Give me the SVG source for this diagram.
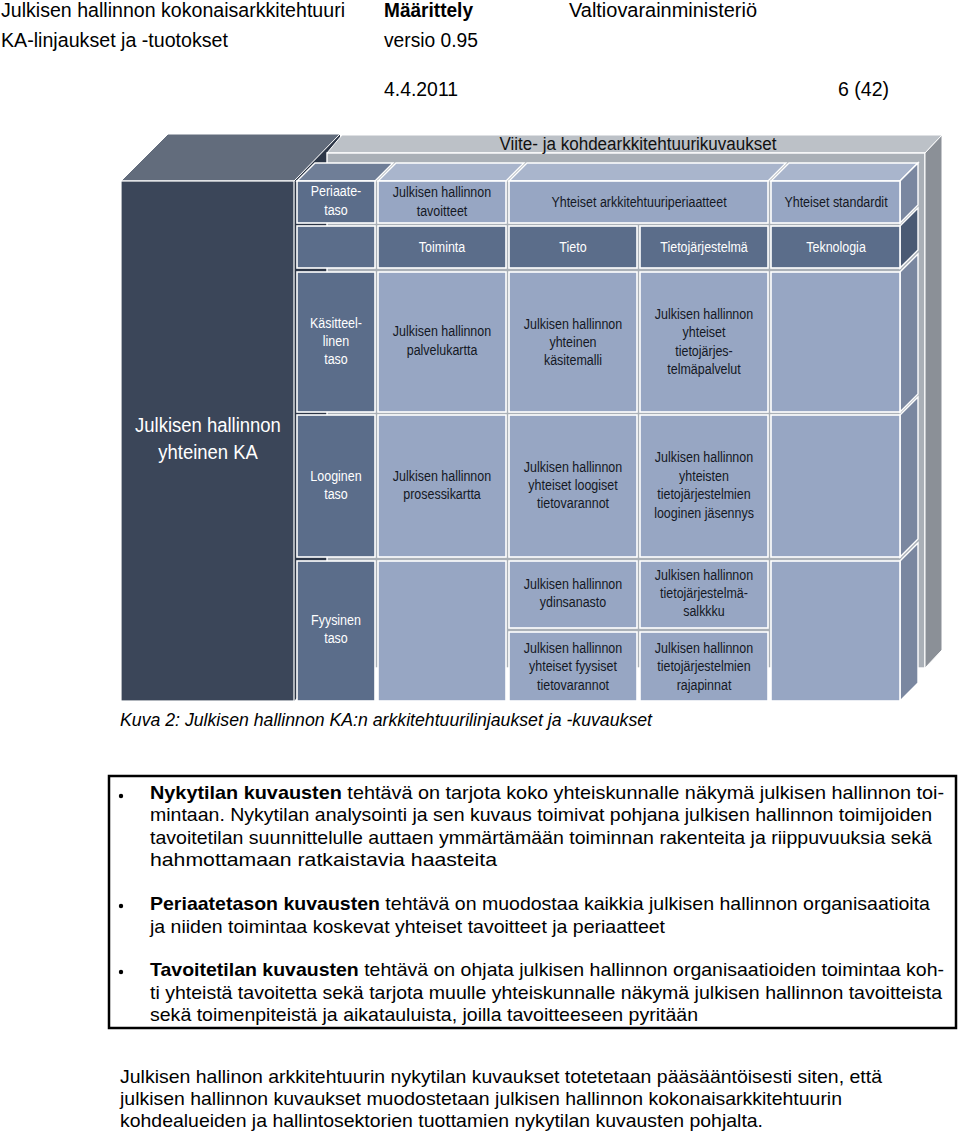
<svg xmlns="http://www.w3.org/2000/svg" width="960" height="1134" viewBox="0 0 960 1134">
<style>
text{font-family:"Liberation Sans",Arial,sans-serif;}
.hd{font-size:20.5px;fill:#000;}
.ct,.cw{font-size:14px;text-anchor:middle;transform:scaleX(0.89);transform-box:fill-box;transform-origin:center;}
.ct{fill:#141824;}
.cw{fill:#ffffff;}
.big{font-size:21px;fill:#ffffff;text-anchor:middle;transform:scaleX(0.88);transform-box:fill-box;transform-origin:center;}
.lt{fill:#97a6c3;stroke:#ffffff;stroke-width:1.6;}
.dk{fill:#5b6d8a;stroke:#ffffff;stroke-width:1.6;}
.ltTop{fill:#a9b5cc;stroke:#ffffff;stroke-width:1.4;}
.dkTop{fill:#6f7e97;stroke:#ffffff;stroke-width:1.4;}
.ltSide{fill:#7a87a0;stroke:#ffffff;stroke-width:1.4;}
.dkSide{fill:#4a5a74;stroke:#ffffff;stroke-width:1.4;}
.bt{font-size:19px;fill:#000;}
.pt{font-size:19px;fill:#000;}
</style>

<g id="header">
<text class="hd" x="1" y="17" textLength="344" lengthAdjust="spacingAndGlyphs">Julkisen hallinnon kokonaisarkkitehtuuri</text>
<text class="hd" x="384" y="17" font-weight="bold" textLength="89" lengthAdjust="spacingAndGlyphs">Määrittely</text>
<text class="hd" x="569" y="17" textLength="188" lengthAdjust="spacingAndGlyphs">Valtiovarainministeriö</text>
<text class="hd" x="1" y="47" textLength="227" lengthAdjust="spacingAndGlyphs">KA-linjaukset ja -tuotokset</text>
<text class="hd" x="384" y="47" textLength="94" lengthAdjust="spacingAndGlyphs">versio 0.95</text>
<text class="hd" x="384" y="96" textLength="74" lengthAdjust="spacingAndGlyphs">4.4.2011</text>
<text class="hd" x="838" y="96" textLength="51" lengthAdjust="spacingAndGlyphs">6 (42)</text>
</g>

<g id="ka-side">
<polygon points="294,181 340,134 340,655 294,701" fill="#2c3647"/>
</g>

<g id="viite-panel">
<polygon points="342,135 942,135 925,153 327,153" fill="#bcc1c7" stroke="#ffffff" stroke-width="1"/>
<rect x="327" y="153" width="598" height="515" fill="#aab0b7" stroke="#ffffff" stroke-width="1.4"/>
<polygon points="925,153 942,135 942,650 925,668" fill="#8b9097" stroke="#ffffff" stroke-width="1"/>
<text x="638" y="150" font-size="18" fill="#111" text-anchor="middle" textLength="277" lengthAdjust="spacingAndGlyphs">Viite- ja kohdearkkitehtuurikuvaukset</text>
</g>

<g id="ka-box">
<polygon points="121,181 168,134 340,134 294,181" fill="#626c7c" stroke="#ffffff" stroke-width="1"/>
<rect x="121" y="181" width="173" height="520" fill="#3b4659" stroke="#ffffff" stroke-width="1.2"/>
<text class="big" x="208" y="432">Julkisen hallinnon</text>
<text class="big" x="208" y="459">yhteinen KA</text>
</g>

<g id="top-faces">
<polygon class="dkTop" points="297,181 375,181 393,163 315,163"/>
<polygon class="ltTop" points="378,181 506,181 524,163 396,163"/>
<polygon class="ltTop" points="509,181 768,181 786,163 527,163"/>
<polygon class="ltTop" points="771,181 900,181 918,163 789,163"/>
</g>

<g id="side-faces">
<polygon class="ltSide" points="900,181 918,163 918,205 900,223"/>
<polygon class="dkSide" points="900,226 918,208 918,250 900,268"/>
<polygon class="ltSide" points="900,272 918,254 918,394 900,412"/>
<polygon class="ltSide" points="900,415 918,397 918,539 900,557"/>
<polygon class="ltSide" points="900,561 918,543 918,683 900,701"/>
</g>

<g id="periaatetaso">
<rect class="dk" x="297" y="181" width="78" height="42"/>
<text class="cw" x="336" y="196">Periaate-</text>
<text class="cw" x="336" y="215">taso</text>
</g>
<g id="tavoitteet">
<rect class="lt" x="378" y="181" width="128" height="42"/>
<text class="ct" x="442" y="197">Julkisen hallinnon</text>
<text class="ct" x="442" y="216">tavoitteet</text>
</g>
<g id="arkkitehtuuriperiaatteet">
<rect class="lt" x="509" y="181" width="259" height="42"/>
<text class="ct" x="639" y="207">Yhteiset arkkitehtuuriperiaatteet</text>
</g>
<g id="standardit">
<rect class="lt" x="771" y="181" width="129" height="42"/>
<text class="ct" x="836" y="207">Yhteiset standardit</text>
</g>

<g id="row1-label">
<rect class="dk" x="297" y="226" width="78" height="42"/>
</g>
<g id="toiminta">
<rect class="dk" x="378" y="226" width="128" height="42"/>
<text class="cw" x="442" y="252">Toiminta</text>
</g>
<g id="tieto">
<rect class="dk" x="509" y="226" width="128" height="42"/>
<text class="cw" x="573" y="252">Tieto</text>
</g>
<g id="tietojarjestelma">
<rect class="dk" x="640" y="226" width="128" height="42"/>
<text class="cw" x="704" y="252">Tietojärjestelmä</text>
</g>
<g id="teknologia">
<rect class="dk" x="771" y="226" width="129" height="42"/>
<text class="cw" x="836" y="252">Teknologia</text>
</g>

<g id="kasitteellinen-taso">
<rect class="dk" x="297" y="272" width="78" height="140"/>
<text class="cw" x="336" y="328">Käsitteel-</text>
<text class="cw" x="336" y="346">linen</text>
<text class="cw" x="336" y="364">taso</text>
</g>
<g id="palvelukartta">
<rect class="lt" x="378" y="272" width="128" height="140"/>
<text class="ct" x="442" y="336">Julkisen hallinnon</text>
<text class="ct" x="442" y="355">palvelukartta</text>
</g>
<g id="kasitemalli">
<rect class="lt" x="509" y="272" width="128" height="140"/>
<text class="ct" x="573" y="329">Julkisen hallinnon</text>
<text class="ct" x="573" y="347">yhteinen</text>
<text class="ct" x="573" y="365">käsitemalli</text>
</g>
<g id="tietojarjestelmapalvelut">
<rect class="lt" x="640" y="272" width="128" height="140"/>
<text class="ct" x="704" y="319">Julkisen hallinnon</text>
<text class="ct" x="704" y="337">yhteiset</text>
<text class="ct" x="704" y="356">tietojärjes-</text>
<text class="ct" x="704" y="374">telmäpalvelut</text>
</g>
<g id="row2-empty">
<rect class="lt" x="771" y="272" width="129" height="140"/>
</g>

<g id="looginen-taso">
<rect class="dk" x="297" y="415" width="78" height="142"/>
<text class="cw" x="336" y="481">Looginen</text>
<text class="cw" x="336" y="499">taso</text>
</g>
<g id="prosessikartta">
<rect class="lt" x="378" y="415" width="128" height="142"/>
<text class="ct" x="442" y="481">Julkisen hallinnon</text>
<text class="ct" x="442" y="499">prosessikartta</text>
</g>
<g id="loogiset-tietovarannot">
<rect class="lt" x="509" y="415" width="128" height="142"/>
<text class="ct" x="573" y="472">Julkisen hallinnon</text>
<text class="ct" x="573" y="490">yhteiset loogiset</text>
<text class="ct" x="573" y="508">tietovarannot</text>
</g>
<g id="looginen-jasennys">
<rect class="lt" x="640" y="415" width="128" height="142"/>
<text class="ct" x="704" y="462">Julkisen hallinnon</text>
<text class="ct" x="704" y="481">yhteisten</text>
<text class="ct" x="704" y="499">tietojärjestelmien</text>
<text class="ct" x="704" y="518">looginen jäsennys</text>
</g>
<g id="row3-empty">
<rect class="lt" x="771" y="415" width="129" height="142"/>
</g>

<g id="fyysinen-taso">
<rect class="dk" x="297" y="561" width="78" height="140"/>
<text class="cw" x="336" y="625">Fyysinen</text>
<text class="cw" x="336" y="643">taso</text>
</g>
<g id="row4-col1-empty">
<rect class="lt" x="378" y="561" width="128" height="140"/>
</g>
<g id="ydinsanasto">
<rect class="lt" x="509" y="561" width="128" height="67"/>
<text class="ct" x="573" y="589">Julkisen hallinnon</text>
<text class="ct" x="573" y="607">ydinsanasto</text>
</g>
<g id="fyysiset-tietovarannot">
<rect class="lt" x="509" y="632" width="128" height="69"/>
<text class="ct" x="573" y="653">Julkisen hallinnon</text>
<text class="ct" x="573" y="671">yhteiset fyysiset</text>
<text class="ct" x="573" y="690">tietovarannot</text>
</g>
<g id="tietojarjestelmasalkku">
<rect class="lt" x="640" y="561" width="128" height="67"/>
<text class="ct" x="704" y="580">Julkisen hallinnon</text>
<text class="ct" x="704" y="598">tietojärjestelmä-</text>
<text class="ct" x="704" y="616">salkkku</text>
</g>
<g id="rajapinnat">
<rect class="lt" x="640" y="632" width="128" height="69"/>
<text class="ct" x="704" y="653">Julkisen hallinnon</text>
<text class="ct" x="704" y="671">tietojärjestelmien</text>
<text class="ct" x="704" y="690">rajapinnat</text>
</g>
<g id="row4-empty">
<rect class="lt" x="771" y="561" width="129" height="140"/>
</g>

<g id="connectors"></g>

<g id="caption">
<text x="120" y="726" font-size="18" font-style="italic" fill="#000" textLength="532" lengthAdjust="spacingAndGlyphs">Kuva 2: Julkisen hallinnon KA:n arkkitehtuurilinjaukset ja -kuvaukset</text>
</g>

<g id="bullet-box">
<rect x="109" y="776" width="847" height="252" fill="#ffffff" stroke="#000" stroke-width="2.5"/>
<circle cx="121" cy="796" r="2.2" fill="#000"/>
<circle cx="121" cy="906" r="2.2" fill="#000"/>
<circle cx="121" cy="972" r="2.2" fill="#000"/>
<text class="bt" x="150" y="799" textLength="794" lengthAdjust="spacingAndGlyphs"><tspan font-weight="bold">Nykytilan kuvausten</tspan> tehtävä on tarjota koko yhteiskunnalle näkymä julkisen hallinnon toi-</text>
<text class="bt" x="150" y="821" textLength="782" lengthAdjust="spacingAndGlyphs">mintaan. Nykytilan analysointi ja sen kuvaus toimivat pohjana julkisen hallinnon toimijoiden</text>
<text class="bt" x="150" y="844" textLength="782" lengthAdjust="spacingAndGlyphs">tavoitetilan suunnittelulle auttaen ymmärtämään toiminnan rakenteita ja riippuvuuksia sekä</text>
<text class="bt" x="150" y="866" textLength="347" lengthAdjust="spacingAndGlyphs">hahmottamaan ratkaistavia haasteita</text>
<text class="bt" x="150" y="910" textLength="780" lengthAdjust="spacingAndGlyphs"><tspan font-weight="bold">Periaatetason kuvausten</tspan> tehtävä on muodostaa kaikkia julkisen hallinnon organisaatioita</text>
<text class="bt" x="150" y="933" textLength="515" lengthAdjust="spacingAndGlyphs">ja niiden toimintaa koskevat yhteiset tavoitteet ja periaatteet</text>
<text class="bt" x="150" y="976" textLength="794" lengthAdjust="spacingAndGlyphs"><tspan font-weight="bold">Tavoitetilan kuvausten</tspan> tehtävä on ohjata julkisen hallinnon organisaatioiden toimintaa koh-</text>
<text class="bt" x="150" y="999" textLength="792" lengthAdjust="spacingAndGlyphs">ti yhteistä tavoitetta sekä tarjota muulle yhteiskunnalle näkymä julkisen hallinnon tavoitteista</text>
<text class="bt" x="150" y="1021" textLength="548" lengthAdjust="spacingAndGlyphs">sekä toimenpiteistä ja aikatauluista, joilla tavoitteeseen pyritään</text>
</g>

<g id="paragraph">
<text class="pt" x="120" y="1083" textLength="762" lengthAdjust="spacingAndGlyphs">Julkisen hallinon arkkitehtuurin nykytilan kuvaukset totetetaan pääsääntöisesti siten, että</text>
<text class="pt" x="120" y="1105" textLength="722" lengthAdjust="spacingAndGlyphs">julkisen hallinnon kuvaukset muodostetaan julkisen hallinnon kokonaisarkkitehtuurin</text>
<text class="pt" x="120" y="1127" textLength="643" lengthAdjust="spacingAndGlyphs">kohdealueiden ja hallintosektorien tuottamien nykytilan kuvausten pohjalta.</text>
</g>
</svg>
